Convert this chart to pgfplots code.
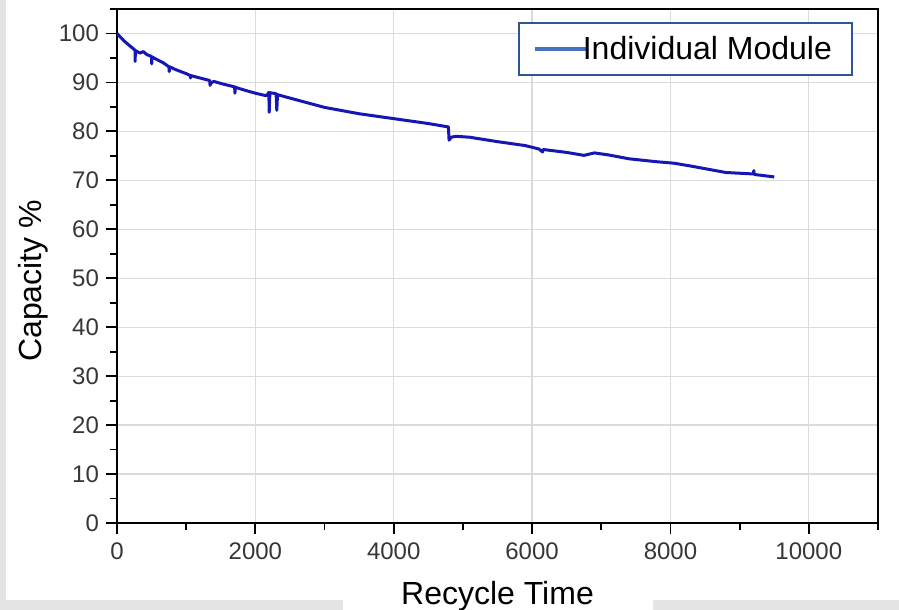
\documentclass[border=0pt]{standalone}
\usepackage{fontspec}
\setmainfont{Liberation Sans}
\usepackage{pgfplots}
\pgfplotsset{compat=1.18}
\definecolor{curveblue}{RGB}{22,22,180}
\definecolor{legline}{RGB}{68,114,196}
\definecolor{legframe}{RGB}{47,85,151}
\definecolor{bggray}{RGB}{228,228,228}
\definecolor{ticktext}{RGB}{55,55,55}

\pgfplotstableread{
x y
0 100
100 98.5
200 97.3
260 96.6
262 94.3
266 96.5
330 96.0
380 96.3
430 95.7
500 95.3
502 93.8
506 95.2
600 94.5
670 94.0
750 93.2
755 92.2
760 93.2
850 92.6
1000 91.8
1060 91.4
1062 90.9
1066 91.4
1200 90.9
1340 90.4
1345 89.4
1360 89.9
1400 90.2
1550 89.6
1700 89.1
1705 87.8
1710 89.0
1850 88.4
2000 87.8
2150 87.3
2180 87.6
2195 88.0
2200 83.9
2210 87.9
2300 87.7
2310 84.3
2320 87.5
2500 86.8
3000 84.9
3500 83.6
4000 82.6
4500 81.6
4750 81.0
4790 80.9
4800 78.2
4830 78.8
4900 79.0
5100 78.8
5500 77.9
5900 77.1
6100 76.4
6150 75.8
6160 76.3
6500 75.7
6750 75.1
6900 75.6
7100 75.2
7400 74.4
7800 73.8
8050 73.5
8300 72.9
8800 71.6
9200 71.3
9205 72.0
9210 71.2
9500 70.7
}\capacity

\begin{document}
\begin{tikzpicture}
\useasboundingbox (-58.5pt,-43.5pt) rectangle (391pt,261.5pt);
% grey page edges of the screenshot
\fill[bggray] (-58.5pt,-43.5pt) rectangle (391pt,261.5pt);
\fill[white] (-55.5pt,-38.5pt) rectangle (391pt,261.5pt);
\fill[white] (113pt,-43.5pt) rectangle (268pt,-38.5pt);
\begin{axis}[
    at={(0pt,0pt)}, anchor=south west,
    scale only axis,
    width=380.5pt, height=257pt,
    xmin=0, xmax=11000,
    ymin=0, ymax=105,
    xtick={0,2000,...,10000},
    minor xtick={1000,3000,...,11000},
    ytick={0,10,...,100},
    minor ytick={5,15,...,105},
    scaled x ticks=false,
    xtick pos=bottom, ytick pos=left,
    tick align=outside,
    major tick length=5.5pt,
    minor tick length=3.5pt,
    every tick/.style={black, line width=0.9pt},
    axis line style={black, line width=1pt},
    xmajorgrids, ymajorgrids,
    major grid style={black!14, line width=0.6pt},
    /pgf/number format/assume math mode=true,
    /pgf/number format/set thousands separator={},
    tick label style={font=\fontsize{12}{14}\selectfont, text=ticktext},
    xticklabel style={yshift=-1pt},
    xlabel={Recycle Time},
    ylabel={Capacity \%},
    label style={font=\fontsize{16}{19}\selectfont},
    xlabel style={at={(axis description cs:0.5,-0.1576)}, anchor=base},
    ylabel style={at={(axis description cs:-0.099,0.471)}, anchor=base},
    legend style={at={(rel axis cs:0.967,0.975)}, anchor=north east,
        draw=legframe, line width=1pt, inner xsep=8pt, inner ysep=4.5pt,
        font=\fontsize{16}{19}\selectfont},
    legend image code/.code={
        \draw[draw=legline, line width=1.8pt, overlay] (0pt,0pt) -- (26pt,0pt);
        \path[draw=none] (0pt,0pt) -- (22pt,0pt);
    },
]
\addplot[curveblue, line width=1.5pt, line join=round] table[x=x, y=y] {\capacity};
\addlegendentry{Individual Module}
\end{axis}
\end{tikzpicture}
\end{document}
